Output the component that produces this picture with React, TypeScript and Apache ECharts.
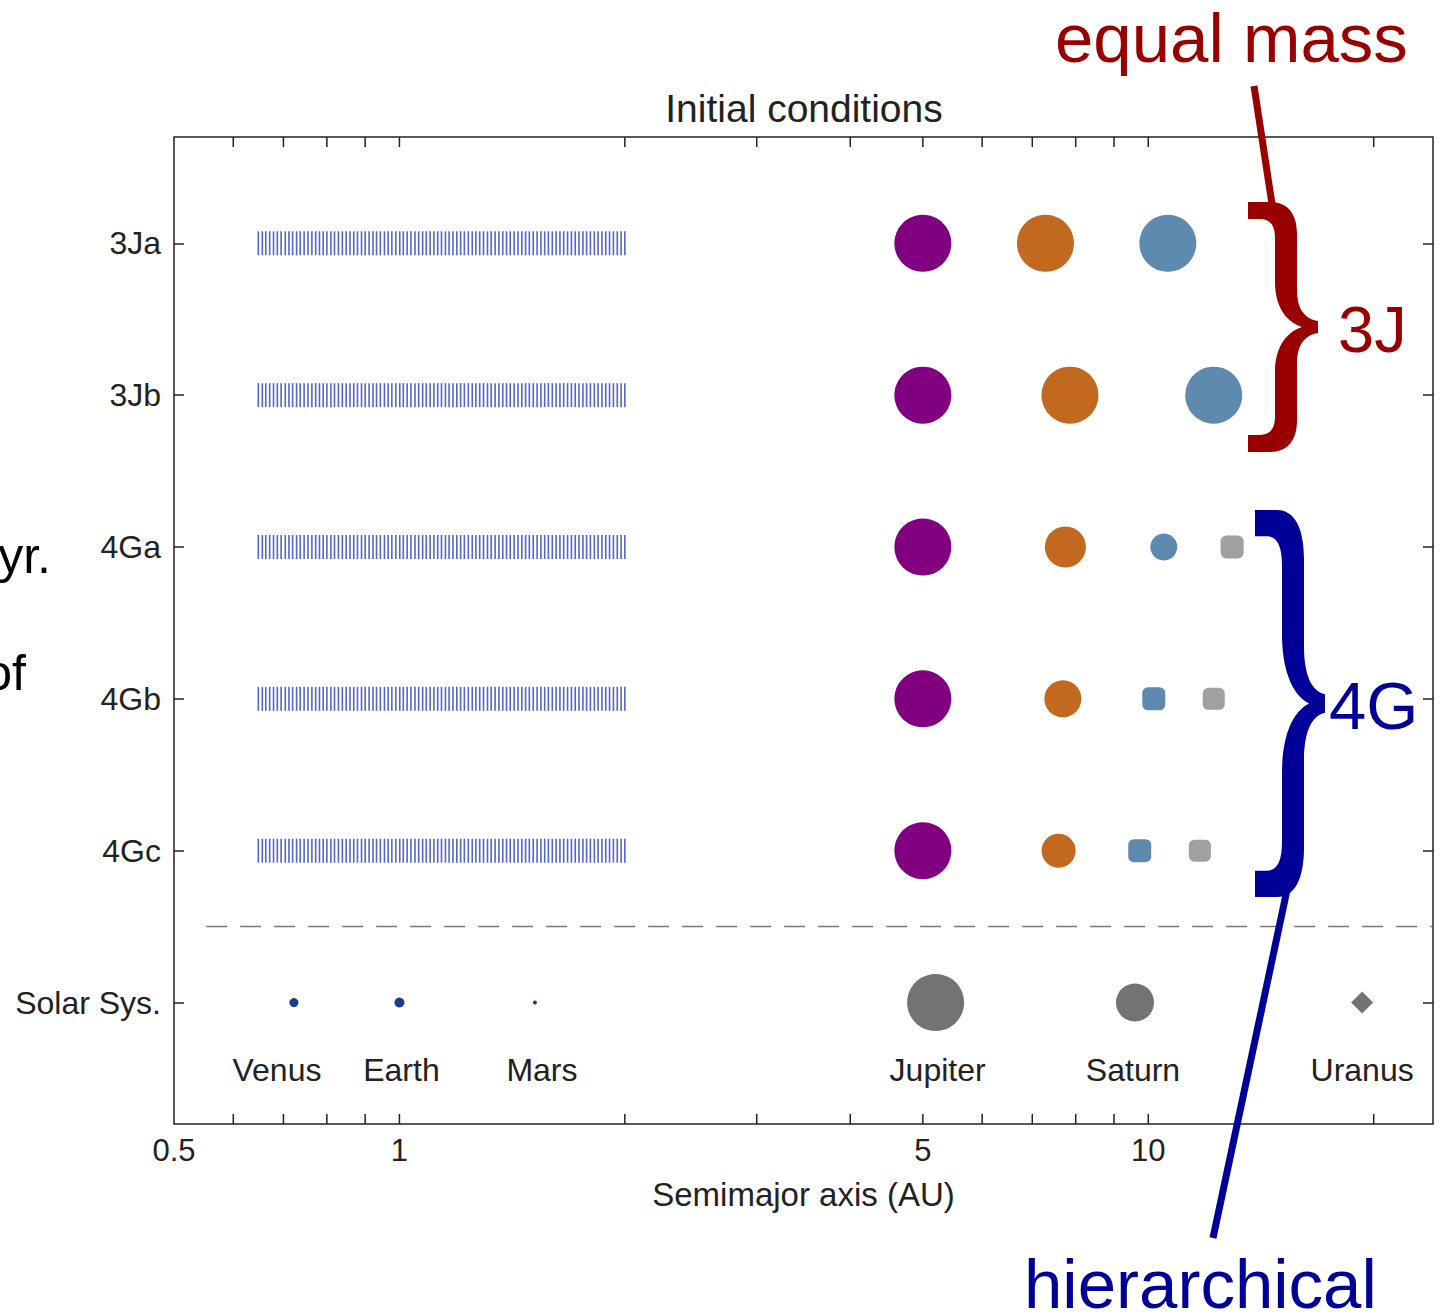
import React, { useEffect, useRef } from "react";
import * as echarts from "echarts";

// ---------------- data ----------------
const rowLabels = ["Solar Sys.", "4Gc", "4Gb", "4Ga", "3Jb", "3Ja"]; // index = y value
const simRows = ["3Ja", "3Jb", "4Ga", "4Gb", "4Gc"];

// planetesimal semimajor axes (AU)
const planetesimalA = [
  0.648, 0.656, 0.663, 0.671, 0.679, 0.687, 0.695, 0.704, 0.712, 0.72,
  0.729, 0.737, 0.746, 0.755, 0.764, 0.773, 0.782, 0.791, 0.8, 0.81,
  0.819, 0.829, 0.839, 0.849, 0.859, 0.869, 0.879, 0.89, 0.9, 0.911,
  0.922, 0.932, 0.943, 0.955, 0.966, 0.977, 0.989, 1.001, 1.012, 1.024,
  1.036, 1.049, 1.061, 1.074, 1.086, 1.099, 1.112, 1.125, 1.138, 1.152,
  1.165, 1.179, 1.193, 1.207, 1.221, 1.236, 1.251, 1.265, 1.28, 1.295,
  1.311, 1.326, 1.342, 1.358, 1.374, 1.39, 1.406, 1.423, 1.44, 1.457,
  1.474, 1.491, 1.509, 1.527, 1.545, 1.563, 1.581, 1.6, 1.619, 1.638,
  1.657, 1.677, 1.697, 1.717, 1.737, 1.758, 1.778, 1.799, 1.821, 1.842,
  1.864, 1.886, 1.908, 1.931, 1.954, 1.977, 2.0,
];

// giant planets per simulation row (AU)
const jupiterA = [5.0, 5.0, 5.0, 5.0, 5.0];
const saturnA = [7.29, 7.86, 7.75, 7.69, 7.59];
const thirdA = [10.62, 12.23, 10.49, 10.17, 9.74];
const fourthA: (number | null)[] = [null, null, 12.94, 12.23, 11.72];

// solar system
const solarNames = ["Venus", "Earth", "Mars", "Jupiter", "Saturn", "Uranus"];
const solarA = [0.723, 1.0, 1.517, 5.2, 9.6, 19.3];

// axis
const xMin = 0.5;
const xMax = 24;
const yMin = -0.8;
const yMax = 5.7;
const xTickValues = [0.6, 0.7, 0.8, 0.9, 1, 2, 3, 4, 5, 6, 7, 8, 9, 10, 20];
const xLabelValues = [0.5, 1, 5, 10];
const yTickValues = [0, 1, 2, 3, 4, 5];
const separatorY = 0.5;
const separatorX = [0.552, 24];

// ---------------- styles ----------------
const FONT = "'Liberation Sans', Arial, sans-serif";
const TXT = "#222";
const RED = "#990000";
const BLUE = "#000099";

const SIZES = {
  jupiter: [57, 57, 57, 57, 57],
  saturn: [57, 57, 41, 37, 34],
  third: [57, 57, 27, 23, 23],
  fourth: [0, 0, 23, 22, 22],
  solar: [9, 10, 4, 57, 38, 22],
};
const SYMBOLS = {
  third: ["circle", "circle", "circle", "roundRect", "roundRect"],
  fourth: ["roundRect", "roundRect", "roundRect", "roundRect", "roundRect"],
  solar: ["circle", "circle", "circle", "circle", "circle", "diamond"],
};
const SOLAR_LABEL_DX = [-17, 2, 7, 2, -2, 0];
const SOLAR_LABEL_DY = 67;

const BRACE_D =
  "M0 0 L22 0 C40 0 49 12 49 32 L49 88 C49 106 56 117 70 119 L70 131 C56 133 49 144 49 162 L49 218 C49 238 40 250 22 250 L0 250 L0 233 L12 233 C22 233 27 227 27 214 L27 170 C27 148 36 131 54 125 C36 119 27 102 27 80 L27 36 C27 23 22 17 12 17 L0 17 Z";

echarts.graphic.registerShape("brace", echarts.graphic.extendPath(BRACE_D, {}) as any);

const rowY = (r: string) => rowLabels.indexOf(r);

function planetSeries(
  name: string,
  arr: (number | null)[],
  sizes: number[],
  color: string,
  symbols?: string[]
) {
  const data: any[] = [];
  simRows.forEach((r, i) => {
    const a = arr[i];
    if (a == null) return;
    data.push({
      value: [a, rowY(r)],
      symbolSize: sizes[i],
      symbol: symbols ? symbols[i] : "circle",
    });
  });
  return {
    type: "scatter",
    name,
    silent: true,
    z: 4,
    data,
    itemStyle: { color, opacity: 1 },
    emphasis: { disabled: true },
  };
}

function txt(text: string, x: number, y: number, size: number, color: string, align = "left") {
  return {
    type: "text",
    x,
    y,
    z: 20,
    silent: true,
    style: {
      text,
      fill: color,
      fontSize: size,
      fontFamily: FONT,
      align,
      textAlign: align,
      verticalAlign: "middle",
      textVerticalAlign: "middle",
    },
  };
}

function buildOption(): any {
  return {
    animation: false,
    backgroundColor: "#fff",
    grid: {
      left: 174,
      top: 137,
      width: 1259,
      height: 987,
      show: true,
      borderColor: "#222",
      borderWidth: 1.5,
      backgroundColor: "transparent",
    },
    xAxis: {
      type: "log",
      logBase: 10,
      min: xMin,
      max: xMax,
      axisLine: { show: false },
      axisTick: { show: false },
      axisLabel: { show: false },
      splitLine: { show: false },
      name: "Semimajor axis (AU)",
      nameLocation: "middle",
      nameGap: 70,
      nameTextStyle: { fontSize: 33, color: TXT, fontFamily: FONT, verticalAlign: "middle" },
    },
    yAxis: [
      {
        type: "value",
        min: yMin,
        max: yMax,
        axisLine: { show: false },
        splitLine: { show: false },
        axisTick: {
          show: true,
          inside: true,
          length: 10,
          customValues: yTickValues,
          lineStyle: { color: "#222", width: 1.5 },
        },
        axisLabel: {
          show: true,
          customValues: yTickValues,
          formatter: (v: number) => rowLabels[Math.round(v)] ?? "",
          margin: 13,
          fontSize: 32,
          color: TXT,
          fontFamily: FONT,
        },
      },
      {
        type: "value",
        position: "right",
        min: yMin,
        max: yMax,
        axisLine: { show: false },
        splitLine: { show: false },
        axisTick: {
          show: true,
          inside: true,
          length: 10,
          customValues: yTickValues,
          lineStyle: { color: "#222", width: 1.5 },
        },
        axisLabel: { show: false },
      },
    ],
    series: [
      // separator
      {
        type: "line",
        silent: true,
        z: 2,
        symbol: "none",
        data: separatorX.map((x) => [x, separatorY]),
        lineStyle: { color: "#777", width: 1.5, type: [21, 13] },
      },
      // planetesimals
      {
        type: "scatter",
        silent: true,
        z: 3,
        symbol: "rect",
        symbolSize: [1.6, 24],
        data: simRows.flatMap((r) => planetesimalA.map((a) => [a, rowY(r)])),
        itemStyle: { color: "#5566c8", opacity: 1 },
        emphasis: { disabled: true },
      },
      planetSeries("Jupiter", jupiterA, SIZES.jupiter, "#800080"),
      planetSeries("Saturn", saturnA, SIZES.saturn, "#c0691f"),
      planetSeries("Third", thirdA, SIZES.third, "#5f8ab0", SYMBOLS.third),
      planetSeries("Fourth", fourthA, SIZES.fourth, "#a0a0a0", SYMBOLS.fourth),
      // solar system
      {
        type: "scatter",
        silent: true,
        z: 4,
        data: solarA.map((a, i) => ({
          value: [a, rowY("Solar Sys.")],
          symbolSize: SIZES.solar[i],
          symbol: SYMBOLS.solar[i],
          itemStyle: { color: i < 3 ? "#1f3c8c" : "#737373", opacity: 1 },
        })),
        itemStyle: { opacity: 1 },
        emphasis: { disabled: true },
      },
      // solar system names
      {
        type: "custom",
        silent: true,
        z: 6,
        clip: false,
        data: solarA.map((a, i) => [a, rowY("Solar Sys."), i]),
        encode: { x: 0, y: 1 },
        renderItem: (params: any, api: any) => {
          const i = api.value(2);
          const p = api.coord([api.value(0), api.value(1)]);
          return {
            type: "text",
            x: p[0] + SOLAR_LABEL_DX[i],
            y: p[1] + SOLAR_LABEL_DY,
            style: {
              text: solarNames[i],
              fill: TXT,
              fontSize: 32,
              fontFamily: FONT,
              align: "center",
              textAlign: "center",
              verticalAlign: "middle",
              textVerticalAlign: "middle",
            },
          };
        },
      },
      // x ticks (top and bottom, inward)
      {
        type: "custom",
        silent: true,
        z: 6,
        clip: false,
        data: xTickValues.map((v) => [v, 0]),
        encode: { x: 0, y: 1 },
        renderItem: (params: any, api: any) => {
          const x = api.coord([api.value(0), api.value(1)])[0];
          const cs = params.coordSys;
          const b = cs.y + cs.height;
          return {
            type: "group",
            children: [
              { type: "line", shape: { x1: x, y1: b, x2: x, y2: b - 10 }, style: { stroke: "#222", lineWidth: 1.5 } },
              { type: "line", shape: { x1: x, y1: cs.y, x2: x, y2: cs.y + 10 }, style: { stroke: "#222", lineWidth: 1.5 } },
            ],
          };
        },
      },
      // x tick labels
      {
        type: "custom",
        silent: true,
        z: 6,
        clip: false,
        data: xLabelValues.map((v) => [v, 0]),
        encode: { x: 0, y: 1 },
        renderItem: (params: any, api: any) => {
          const v = api.value(0);
          const x = api.coord([v, api.value(1)])[0];
          const cs = params.coordSys;
          const b = cs.y + cs.height;
          return {
            type: "text",
            x,
            y: b + 26,
            style: {
              text: String(v),
              fill: TXT,
              fontSize: 31,
              fontFamily: FONT,
              align: "center",
              textAlign: "center",
              verticalAlign: "middle",
              textVerticalAlign: "middle",
            },
          };
        },
      },
    ],
    graphic: [
      txt("Initial conditions", 804, 108, 39, TXT, "center"),
      // left cut-off text
      txt("yr.", 51, 556, 50, "#000", "right"),
      txt("of", 26, 673, 50, "#000", "right"),
      // equal mass annotation
      txt("equal mass", 1055, 38, 69, RED),
      {
        type: "line",
        z: 20,
        silent: true,
        shape: { x1: 1254, y1: 86, x2: 1272, y2: 204 },
        style: { stroke: RED, lineWidth: 7 },
      },
      { type: "brace", x: 1248, y: 202, scaleX: 1, scaleY: 1, z: 20, silent: true, style: { fill: RED } },
      txt("3J", 1338, 329, 65, RED),
      // hierarchical annotation
      { type: "brace", x: 1255, y: 510, scaleX: 1, scaleY: 1.548, z: 20, silent: true, style: { fill: BLUE } },
      txt("4G", 1329, 705, 67, BLUE),
      {
        type: "line",
        z: 20,
        silent: true,
        shape: { x1: 1287, y1: 890, x2: 1213, y2: 1238 },
        style: { stroke: BLUE, lineWidth: 7 },
      },
      txt("hierarchical", 1024, 1284, 69, BLUE),
    ],
  };
}

export default function App() {
  const ref = useRef<HTMLDivElement>(null);
  useEffect(() => {
    if (!ref.current) return;
    const chart = echarts.init(ref.current, undefined, { renderer: "svg" });
    chart.setOption(buildOption());
    return () => chart.dispose();
  }, []);
  return (
    <div
      ref={ref}
      style={{ position: "absolute", left: 0, top: 0, width: 1443, height: 1314, background: "#fff" }}
    />
  );
}
